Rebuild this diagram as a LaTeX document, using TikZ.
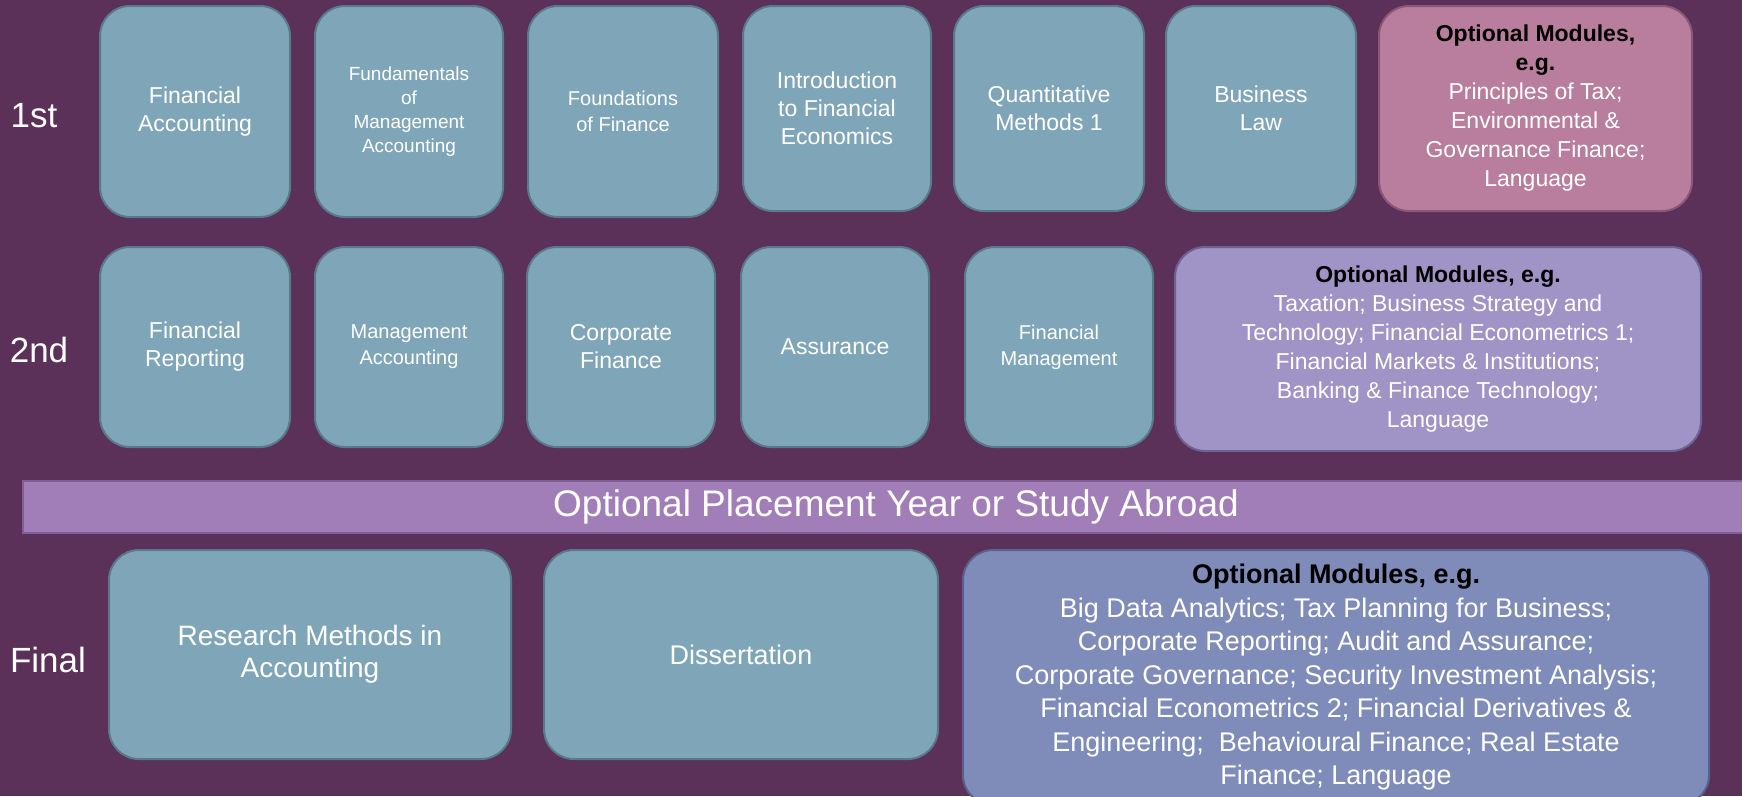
\documentclass[tikz,border=0pt]{standalone}
\usepackage{fontspec}
\setmainfont{Liberation Sans}
\definecolor{bgpurple}{RGB}{91,48,89}
\definecolor{tealfill}{RGB}{127,166,184}
\definecolor{tealline}{RGB}{88,122,138}
\definecolor{pinkfill}{RGB}{185,126,157}
\definecolor{pinkline}{RGB}{138,88,118}
\definecolor{lilacfill}{RGB}{160,148,199}
\definecolor{lilacline}{RGB}{108,98,148}
\definecolor{bannerfill}{RGB}{162,126,185}
\definecolor{bannerline}{RGB}{128,94,152}
\definecolor{bluefill}{RGB}{127,140,186}
\definecolor{blueline}{RGB}{88,98,140}
\tikzset{
  modbox/.style={draw=tealline, fill=tealfill, line width=2pt, rounded corners=30pt,
    text=white, align=center, inner sep=0pt, font=\fontsize{23}{28}\selectfont},
  optbox/.style={modbox, font=\fontsize{23}{29}\selectfont},
  yearlabel/.style={text=white, inner sep=0pt, font=\fontsize{35}{42}\selectfont}
}
\newcommand{\ophead}[1]{\textcolor{black}{\textbf{#1}}}
\begin{document}
\begin{tikzpicture}[x=1pt, y=-1pt]
\clip (0,0) rectangle (1742,796);
\fill[bgpurple] (0,0) rectangle (1742,796);
\node[yearlabel] (first) at (34,116) {1st};
\node[yearlabel] (second) at (39,350) {2nd};
\node[yearlabel] (final) at (48,660) {Final};
\node[modbox, minimum width=190, minimum height=211] (fa) at (195,111.5) {Financial\\Accounting};
\node[modbox, minimum width=188, minimum height=211, font=\fontsize{19}{24}\selectfont] (fma) at (409,111.5) {Fundamentals\\of\\Management\\Accounting};
\node[modbox, minimum width=190, minimum height=211, font=\fontsize{20}{26}\selectfont] (fof) at (623,111.5) {Foundations\\of Finance};
\node[modbox, minimum width=188, minimum height=205] (ife) at (837,108.5) {Introduction\\to Financial\\Economics};
\node[modbox, minimum width=190, minimum height=205] (qm) at (1049,108.5) {Quantitative\\Methods 1};
\node[modbox, minimum width=190, minimum height=205] (bl) at (1261,108.5) {Business\\Law};
\node[optbox, draw=pinkline, fill=pinkfill, minimum width=313, minimum height=205] (opt1) at (1535.5,108.5)
  {\ophead{Optional Modules,}\\\ophead{e.g.}\\Principles of Tax;\\Environmental \&\\Governance Finance;\\Language};
\node[modbox, minimum width=190, minimum height=200] (fr) at (195,347) {Financial\\Reporting};
\node[modbox, minimum width=188, minimum height=200, font=\fontsize{20}{26}\selectfont] (ma) at (409,347) {Management\\Accounting};
\node[modbox, minimum width=188, minimum height=200] (cf) at (621,347) {Corporate\\Finance};
\node[modbox, minimum width=188, minimum height=200] (as) at (835,347) {Assurance};
\node[modbox, minimum width=188, minimum height=200, font=\fontsize{20}{26}\selectfont] (fm) at (1059,347) {Financial\\Management};
\node[optbox, draw=lilacline, fill=lilacfill, minimum width=526, minimum height=204] (opt2) at (1438,349)
  {\ophead{Optional Modules, e.g.}\\Taxation; Business Strategy and\\Technology; Financial Econometrics 1;\\Financial Markets \& Institutions;\\Banking \& Finance Technology;\\Language};
\node[draw=bannerline, fill=bannerfill, line width=2pt, text=white, minimum width=1746, minimum height=52,
  font=\fontsize{37}{42}\selectfont] (plc) at (896,507) {Optional Placement Year or Study Abroad};
\node[modbox, minimum width=402, minimum height=209, font=\fontsize{28}{32}\selectfont] (rm) at (310,654.5) {Research Methods in\\Accounting};
\node[modbox, minimum width=394, minimum height=209, font=\fontsize{27}{32}\selectfont] (dis) at (741,654.5) {Dissertation};
\node[optbox, draw=blueline, fill=bluefill, minimum width=746, minimum height=255, font=\fontsize{27}{33.5}\selectfont] (opt3) at (1336,677.5)
  {\ophead{Optional Modules, e.g.}\\Big Data Analytics; Tax Planning for Business;\\Corporate Reporting; Audit and Assurance;\\Corporate Governance; Security Investment Analysis;\\Financial Econometrics 2; Financial Derivatives \&\\Engineering;\ \ Behavioural Finance; Real Estate\\Finance; Language};
\end{tikzpicture}
\end{document}
